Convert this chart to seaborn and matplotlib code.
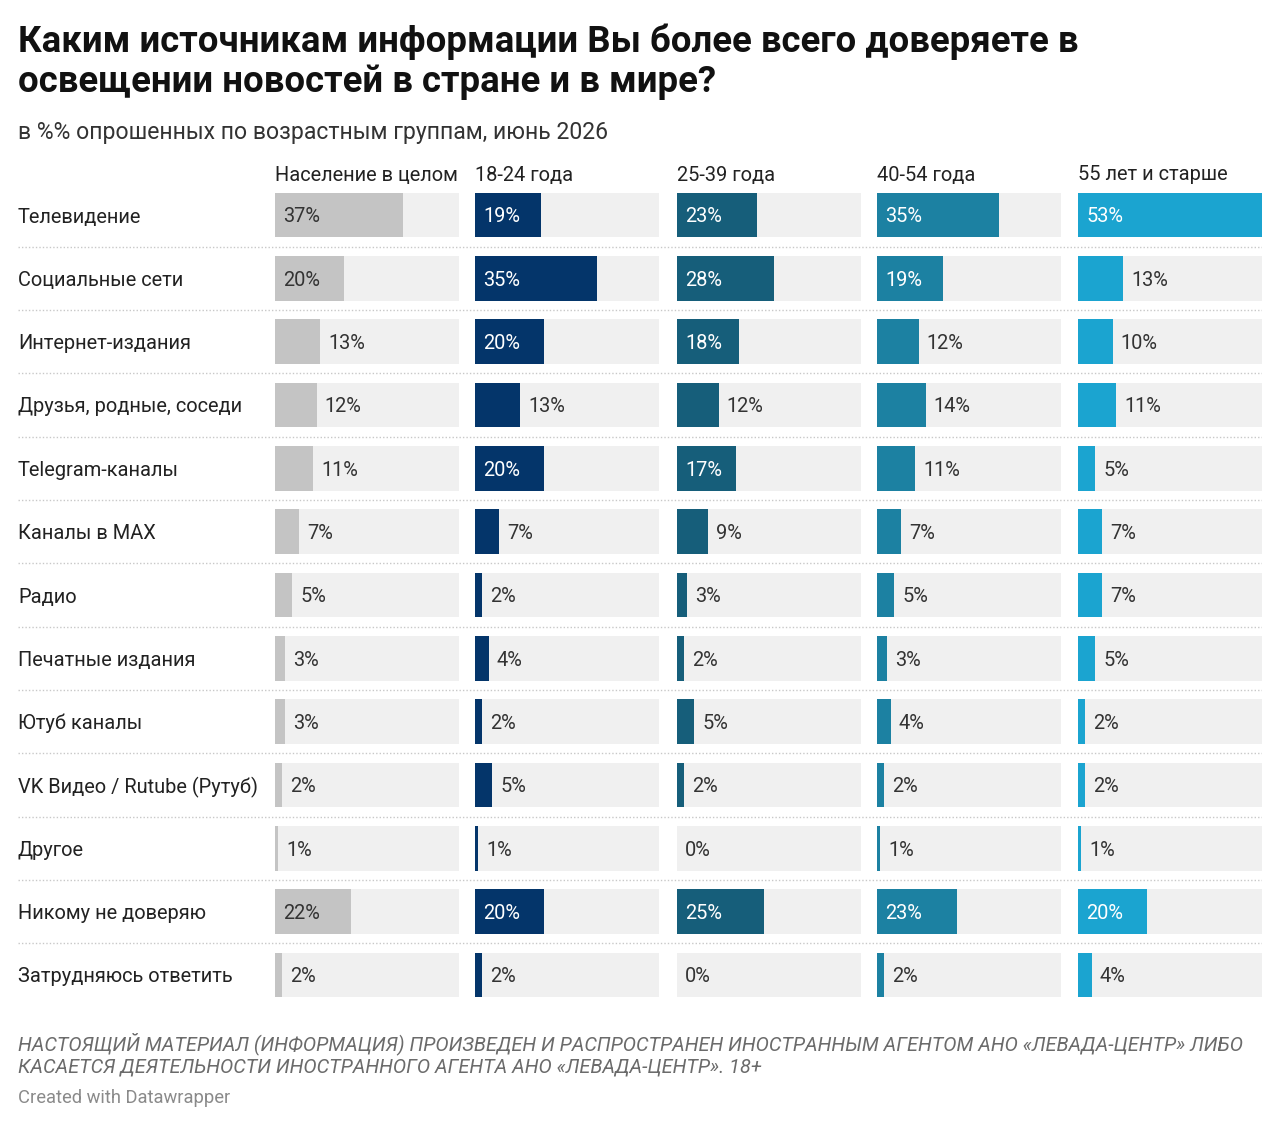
import matplotlib
matplotlib.use("Agg")
import matplotlib.pyplot as plt
import seaborn as sns
import pandas as pd
import numpy as np
from matplotlib import transforms

categories = ["Телевидение", "Социальные сети", "Интернет-издания", "Друзья, родные, соседи",
              "Telegram-каналы", "Каналы в MAX", "Радио", "Печатные издания", "Ютуб каналы",
              "VK Видео / Rutube (Рутуб)", "Другое", "Никому не доверяю", "Затрудняюсь ответить"]
groups = ["Население в целом", "18-24 года", "25-39 года", "40-54 года", "55 лет и старше"]
pop_all = [37, 20, 13, 12, 11, 7, 5, 3, 3, 2, 1, 22, 2]
age_18_24 = [19, 35, 20, 13, 20, 7, 2, 4, 2, 5, 1, 20, 2]
age_25_39 = [23, 28, 18, 12, 17, 9, 3, 2, 5, 2, 0, 25, 0]
age_40_54 = [35, 19, 12, 14, 11, 7, 5, 3, 4, 2, 1, 23, 2]
age_55 = [53, 13, 10, 11, 5, 7, 7, 5, 2, 2, 1, 20, 4]
series = [pop_all, age_18_24, age_25_39, age_40_54, age_55]
colors = ["#c4c4c4", "#04356a", "#165e7a", "#1c81a2", "#1ba4d0"]
label_colors = ["#333333", "white", "white", "white", "white"]

sns.set_theme(style="white")
plt.rcParams['font.family'] = ['Roboto', 'DejaVu Sans']

W, H = 1280, 1125
fig = plt.figure(figsize=(W / 100, H / 100), dpi=100)
fig.patch.set_facecolor("white")

n = len(categories)
pitch = (975 - 215) / (n - 1)
top_px = 215 - pitch / 2
bot_px = 975 + pitch / 2
ax_h = (bot_px - top_px) / H
ax_y = 1 - bot_px / H

xmax = max(max(s) for s in series)
FS = 14.4
DY = -2  # shift text down by 2 px

off = transforms.offset_copy

# separator axes
sep = fig.add_axes([18 / W, ax_y, (1262 - 18) / W, ax_h])
sep.set_xlim(0, 1)
sep.set_ylim(n - 0.5, -0.5)
for i in range(n - 1):
    sep.axhline(i + 0.5, color="#c8c8c8", lw=1, ls=(0, (1, 1.5)))
sep.axis("off")
for i, c in enumerate(categories):
    sep.text(0, i, c, ha="left", va="center", fontsize=FS, color="#222222",
             transform=off(sep.transData, fig=fig, x=0, y=DY, units="dots"))

lefts = [275, 475, 677, 877, 1078]
col_w = 184
for k, (vals, grp) in enumerate(zip(series, groups)):
    ax = fig.add_axes([lefts[k] / W, ax_y, col_w / W, ax_h])
    df = pd.DataFrame({"cat": categories, "val": vals, "bg": [xmax] * n})
    sns.barplot(data=df, x="bg", y="cat", ax=ax, color="#f0f0f0", width=0.71,
                saturation=1, orient="h", linewidth=0)
    sns.barplot(data=df, x="val", y="cat", ax=ax, color=colors[k], width=0.71,
                saturation=1, orient="h", linewidth=0)
    ax.set_xlim(0, xmax)
    ax.set_ylim(n - 0.5, -0.5)
    ax.axis("off")
    tr = off(ax.transData, fig=fig, x=8, y=DY, units="dots")
    for i, v in enumerate(vals):
        if v >= 15:
            ax.text(0, i, f"{v}%", ha="left", va="center", fontsize=FS,
                    color=label_colors[k], transform=tr)
        else:
            ax.text(v, i, f"{v}%", ha="left", va="center", fontsize=FS,
                    color="#333333", transform=tr)
    fig.text(lefts[k] / W, 1 - 175 / H, grp, ha="left", va="center",
             fontsize=FS, color="#222222")

fig.text(18 / W, 1 - 42 / H, "Каким источникам информации Вы более всего доверяете в",
         ha="left", va="center", fontsize=26.3, fontweight="bold", color="#111111")
fig.text(18 / W, 1 - 82 / H, "освещении новостей в стране и в мире?",
         ha="left", va="center", fontsize=26.3, fontweight="bold", color="#111111")
fig.text(18 / W, 1 - 133 / H, "в %% опрошенных по возрастным группам, июнь 2026",
         ha="left", va="center", fontsize=16.6, color="#333333")
fig.text(18 / W, 1 - 1044 / H,
         "НАСТОЯЩИЙ МАТЕРИАЛ (ИНФОРМАЦИЯ) ПРОИЗВЕДЕН И РАСПРОСТРАНЕН ИНОСТРАННЫМ АГЕНТОМ АНО «ЛЕВАДА-ЦЕНТР» ЛИБО",
         ha="left", va="center", fontsize=14.3, style="italic", color="#6b6b6b")
fig.text(18 / W, 1 - 1067 / H,
         "КАСАЕТСЯ ДЕЯТЕЛЬНОСТИ ИНОСТРАННОГО АГЕНТА АНО «ЛЕВАДА-ЦЕНТР». 18+",
         ha="left", va="center", fontsize=14.3, style="italic", color="#6b6b6b")
fig.text(18 / W, 1 - 1098 / H, "Created with Datawrapper",
         ha="left", va="center", fontsize=13.2, color="#8a8a8a")

fig.savefig("out.png", dpi=100, facecolor="white")
